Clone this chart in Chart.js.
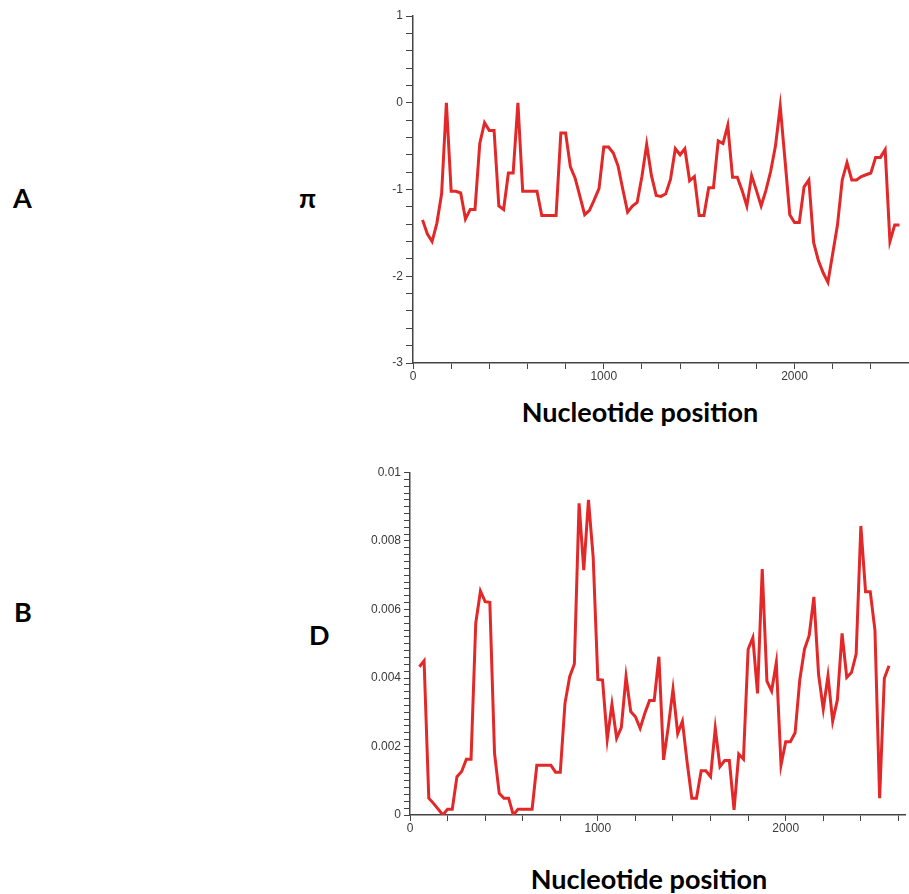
<!DOCTYPE html>
<html>
<head>
<meta charset="utf-8">
<script src="https://cdn.jsdelivr.net/npm/chart.js@4.4.1/dist/chart.umd.min.js"></script>
<style>
  html, body { margin: 0; padding: 0; background: #fff; }
  body { width: 909px; height: 894px; position: relative; overflow: hidden; }
  canvas { position: absolute; }
  .lbl {
    position: absolute;
    font-family: Lato, "Open Sans", sans-serif;
    font-weight: bold;
    font-size: 27px;
    line-height: 27px;
    color: #000;
    white-space: nowrap;
  }
  .axis-title { transform: translateX(-50%); }
</style>
</head>
<body>
<div class="lbl" style="left:13px; top:184px">A</div>
<div class="lbl" style="left:299px; top:184px">π</div>
<div class="lbl" style="left:14px; top:598px">B</div>
<div class="lbl" style="left:309px; top:621px">D</div>
<div class="lbl axis-title" style="left:640px; top:398px">Nucleotide position</div>
<div class="lbl axis-title" style="left:649px; top:865px">Nucleotide position</div>

<canvas id="pi-chart" width="569" height="380" style="left:340px; top:0"></canvas>
<canvas id="d-chart" width="579" height="382" style="left:330px; top:450px"></canvas>

<script>
"use strict";

// window midpoints (window 100, step 25)
const positions = [
  50, 75, 100, 125, 150, 175, 200, 225, 250, 275,
  300, 325, 350, 375, 400, 425, 450, 475, 500, 525,
  550, 575, 600, 625, 650, 675, 700, 725, 750, 775,
  800, 825, 850, 875, 900, 925, 950, 975, 1000, 1025,
  1050, 1075, 1100, 1125, 1150, 1175, 1200, 1225, 1250, 1275,
  1300, 1325, 1350, 1375, 1400, 1425, 1450, 1475, 1500, 1525,
  1550, 1575, 1600, 1625, 1650, 1675, 1700, 1725, 1750, 1775,
  1800, 1825, 1850, 1875, 1900, 1925, 1950, 1975, 2000, 2025,
  2050, 2075, 2100, 2125, 2150, 2175, 2200, 2225, 2250, 2275,
  2300, 2325, 2350, 2375, 2400, 2425, 2450, 2475, 2500, 2525,
  2550,
];

const piValues = [
  -1.35, -1.51, -1.60, -1.39, -1.05, 0.00, -1.02, -1.02, -1.04, -1.34,
  -1.23, -1.23, -0.47, -0.23, -0.32, -0.32, -1.19, -1.23, -0.81, -0.81,
  0.00, -1.02, -1.02, -1.02, -1.02, -1.30, -1.30, -1.30, -1.30, -0.35,
  -0.35, -0.74, -0.87, -1.08, -1.29, -1.24, -1.12, -0.99, -0.51, -0.51,
  -0.58, -0.73, -1.00, -1.26, -1.19, -1.15, -0.85, -0.48, -0.84, -1.07,
  -1.08, -1.05, -0.88, -0.53, -0.60, -0.53, -0.90, -0.85, -1.30, -1.30,
  -0.98, -0.98, -0.44, -0.47, -0.26, -0.86, -0.86, -1.01, -1.19, -0.84,
  -1.01, -1.19, -1.01, -0.79, -0.50, -0.04, -0.66, -1.29, -1.38, -1.38,
  -0.97, -0.89, -1.61, -1.82, -1.96, -2.07, -1.74, -1.41, -0.89, -0.69,
  -0.89, -0.89, -0.85, -0.83, -0.81, -0.63, -0.63, -0.54, -1.60, -1.41,
  -1.41,
];

const dValues = [
  0.00433, 0.00450, 0.00049, 0.00034, 0.00017, 0.00000, 0.00017, 0.00017, 0.00112, 0.00127,
  0.00163, 0.00163, 0.00560, 0.00654, 0.00623, 0.00621, 0.00180, 0.00063, 0.00049, 0.00049,
  0.00000, 0.00017, 0.00017, 0.00017, 0.00017, 0.00145, 0.00145, 0.00145, 0.00145, 0.00125,
  0.00125, 0.00326, 0.00404, 0.00441, 0.00910, 0.00715, 0.00920, 0.00754, 0.00396, 0.00394,
  0.00221, 0.00323, 0.00224, 0.00256, 0.00404, 0.00302, 0.00287, 0.00253, 0.00297, 0.00334,
  0.00334, 0.00462, 0.00161, 0.00258, 0.00367, 0.00238, 0.00274, 0.00155, 0.00049, 0.00049,
  0.00129, 0.00129, 0.00112, 0.00253, 0.00141, 0.00159, 0.00159, 0.00015, 0.00178, 0.00163,
  0.00484, 0.00518, 0.00355, 0.00718, 0.00391, 0.00362, 0.00445, 0.00146, 0.00214, 0.00214,
  0.00240, 0.00395, 0.00484, 0.00524, 0.00637, 0.00410, 0.00309, 0.00406, 0.00274, 0.00336,
  0.00530, 0.00402, 0.00416, 0.00470, 0.00844, 0.00652, 0.00652, 0.00540, 0.00049, 0.00399,
  0.00436,
];

// axis tick positions (labels only on the major ones)
const xTicks = [0, 200, 400, 600, 800, 1000, 1200, 1400, 1600, 1800, 2000, 2200, 2400, 2600];
const piTicks = [-3, -2.8, -2.6, -2.4, -2.2, -2, -1.8, -1.6, -1.4, -1.2, -1, -0.8, -0.6, -0.4, -0.2,
  0, 0.2, 0.4, 0.6, 0.8, 1];
const dTicks = [];
for (let k = 0; k <= 50; k++) dTicks.push(k * 0.0002);

const LINE_COLOR = "#e22828";
const AXIS_COLOR = "#444444";
const TICK_FONT = { family: "'Liberation Sans', Arial, sans-serif", size: 12 };
const TICK_COLOR = "#3a3a3a";

function setTicks(list) {
  return (scale) => {
    scale.ticks = list.map((v) => ({ value: v }));
  };
}

function makeChart(canvasId, values, opts) {
  const ctx = document.getElementById(canvasId).getContext("2d");
  return new Chart(ctx, {
    type: "line",
    data: {
      datasets: [
        {
          data: positions.map((x, i) => ({ x: x, y: values[i] })),
          borderColor: LINE_COLOR,
          borderWidth: 3,
          pointRadius: 0,
          tension: 0,
          fill: false,
        },
      ],
    },
    options: {
      responsive: false,
      animation: false,
      devicePixelRatio: 1,
      events: [],
      layout: { padding: opts.padding },
      plugins: { legend: { display: false }, tooltip: { enabled: false } },
      scales: {
        x: {
          type: "linear",
          min: 0,
          max: opts.xMax,
          afterBuildTicks: setTicks(xTicks),
          afterFit: (s) => { s.height = 17; },
          ticks: {
            autoSkip: false,
            maxRotation: 0,
            padding: 0,
            font: TICK_FONT,
            color: TICK_COLOR,
            callback: (v) => (v % 1000 === 0 ? String(v) : ""),
          },
          grid: { drawOnChartArea: false, tickLength: 6, tickColor: AXIS_COLOR },
          border: { color: AXIS_COLOR, width: 1.5 },
        },
        y: {
          min: opts.yMin,
          max: opts.yMax,
          afterBuildTicks: setTicks(opts.yTicks),
          afterFit: (s) => { s.width = opts.yWidth; },
          ticks: {
            autoSkip: false,
            padding: 3,
            font: TICK_FONT,
            color: TICK_COLOR,
            callback: opts.yLabel,
          },
          grid: { drawOnChartArea: false, tickLength: opts.yTickLen, tickColor: AXIS_COLOR },
          border: { color: AXIS_COLOR, width: 1.5 },
        },
      },
    },
  });
}

// top panel: pi along the sequence
makeChart("pi-chart", piValues, {
  padding: { top: 16, right: 0, bottom: 0, left: 0 },
  xMax: 2600,
  yMin: -3,
  yMax: 1,
  yTicks: piTicks,
  yWidth: 73,
  yTickLen: 7,
  yLabel: (v) => (Math.abs(v - Math.round(v)) < 1e-6 ? String(Math.round(v)) : ""),
});

// bottom panel: D along the sequence
makeChart("d-chart", dValues, {
  padding: { top: 22.5, right: 4, bottom: 0, left: 0 },
  xMax: 2635,
  yMin: 0,
  yMax: 0.01,
  yTicks: dTicks,
  yWidth: 80,
  yTickLen: 6,
  yLabel: (v) => {
    const k = Math.round(v / 0.0002);
    return k % 10 === 0 ? String(+(k * 0.0002).toFixed(3)) : "";
  },
});
</script>
</body>
</html>
